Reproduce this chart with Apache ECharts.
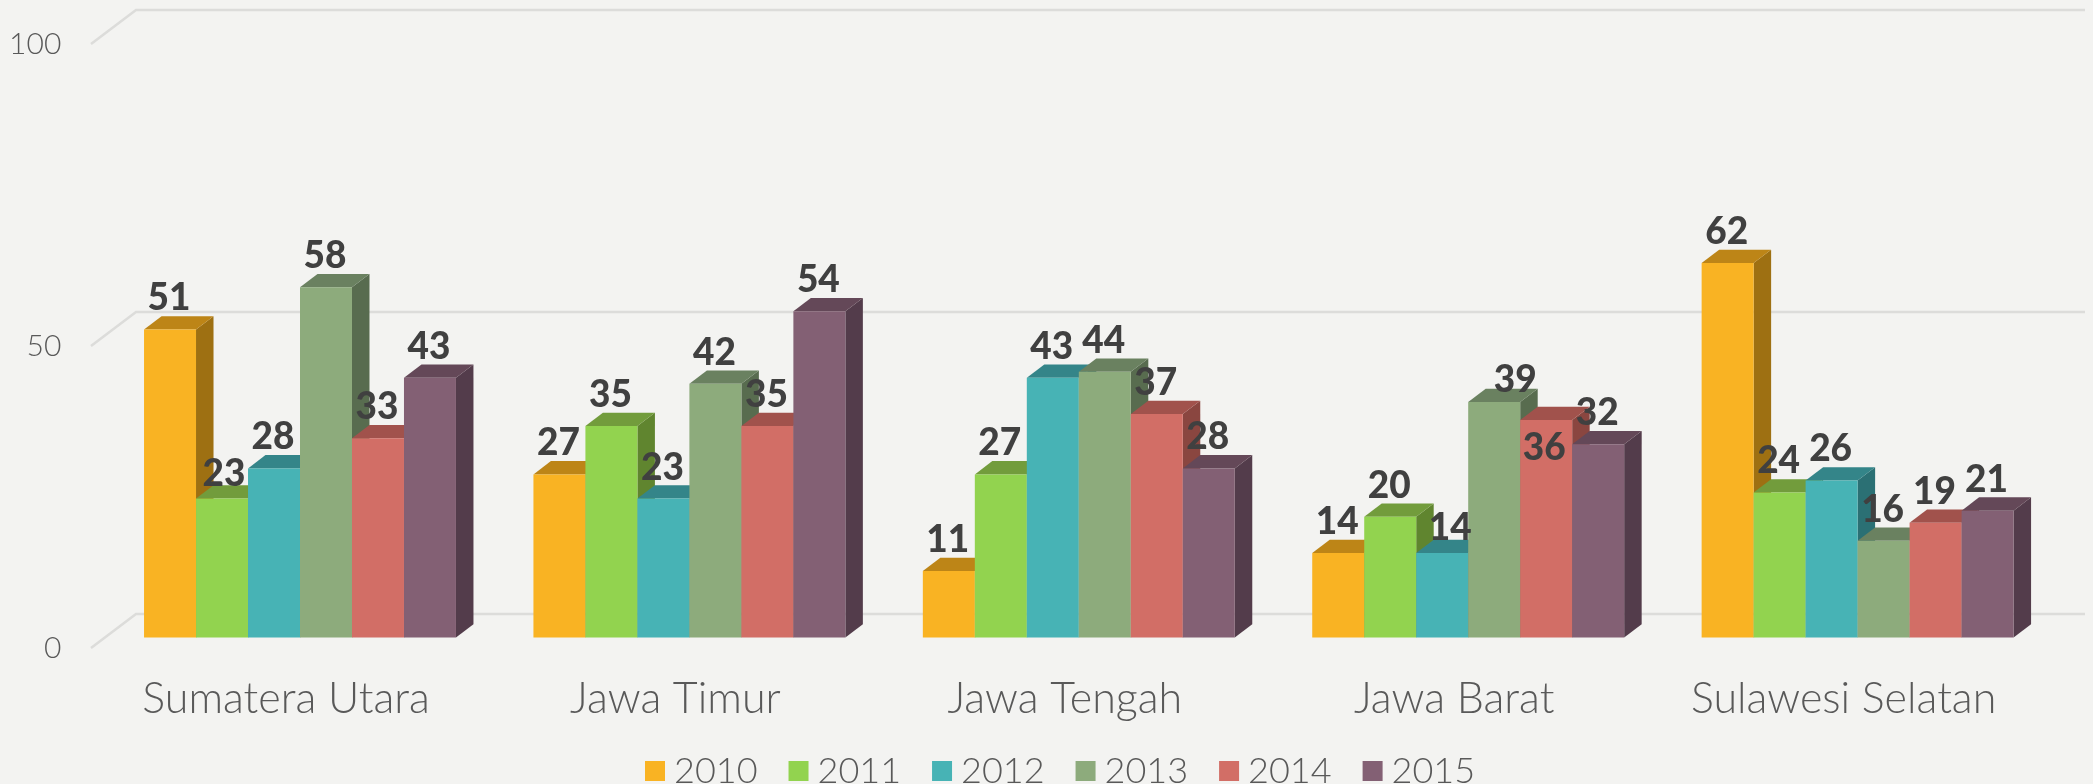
<!DOCTYPE html>
<html>
<head>
<meta charset="utf-8">
<title>Chart</title>
<style>
  html, body { margin: 0; height: 100%; background: #f3f3f1; }
  #chart { width: 2093px; height: 784px; }
</style>
<script src="https://cdn.jsdelivr.net/npm/echarts@6/dist/echarts.min.js"></script>
</head>
<body>
<div id="chart"></div>
<script>
const regions = ['Sumatera Utara', 'Jawa Timur', 'Jawa Tengah', 'Jawa Barat', 'Sulawesi Selatan']
const years = ['2010', '2011', '2012', '2013', '2014', '2015']
const values2010 = [51, 27, 11, 14, 62]
const values2011 = [23, 35, 27, 20, 24]
const values2012 = [28, 23, 43, 14, 26]
const values2013 = [58, 42, 44, 39, 16]
const values2014 = [33, 35, 37, 36, 19]
const values2015 = [43, 54, 28, 32, 21]
const yTicks = [0, 50, 100]

const yearValues = [values2010, values2011, values2012, values2013, values2014, values2015]

// front, top and side colour of each year's bars
const frontColors = ['#f9b323', '#92d34f', '#47b3b5', '#8dab7c', '#d26e66', '#836074']
const topColors = ['#bd8517', '#729c3c', '#348589', '#6a8160', '#a1524c', '#644858']
const sideColors = ['#9e7012', '#60852f', '#2b7074', '#586c4f', '#8a4640', '#533c4b']

const barDepthX = 17.5
const barDepthY = 13.3
const wallX = 45      // floor depth of the fake 3D box
const wallY = 34
const floorDrop = 10.5 // front edge of the floor sits below the bar base

// labels that were moved by hand in the original, "region-year": [dx, dy]
const labelNudges = {
  '0-1': [3, 6],
  '3-2': [9, 6],
  '3-3': [22, 9],
  '3-4': [-1, 59]
}

const chart = echarts.init(document.getElementById('chart'))

// back wall gridlines plus the slanted bit on the left
const renderGridLine = (params, api) => {
  const p = api.coord([0, api.value(0)])
  const box = params.coordSys
  const frontY = p[1] + floorDrop
  const backY = frontY - wallY
  return {
    type: 'polyline',
    z2: -1,
    shape: { points: [[91, frontY], [91 + wallX, backY], [box.x + box.width + 32.7, backY]] },
    style: { stroke: '#dcdcda', lineWidth: 2.5, fill: null }
  }
}

const makeBarRenderer = (yearIndex) => (params, api) => {
  const catIndex = api.value(0)
  const val = api.value(1)
  const top = api.coord([catIndex, val])
  const base = api.coord([catIndex, 0])
  const w = api.size([1, 0])[0] / 7.49
  const x = top[0] + (yearIndex - 3) * w
  const xr = x + w
  const dx = barDepthX
  const dy = barDepthY
  const nudge = labelNudges[catIndex + '-' + yearIndex] || [0, 0]

  return {
    type: 'group',
    children: [
      {
        type: 'polygon',
        z2: yearIndex * 3,
        shape: { points: [[xr, base[1]], [xr + dx, base[1] - dy], [xr + dx, top[1] - dy], [xr, top[1]]] },
        style: { fill: sideColors[yearIndex] }
      },
      {
        type: 'polygon',
        z2: yearIndex * 3 + 1,
        shape: { points: [[x, top[1]], [x + dx, top[1] - dy], [xr + dx, top[1] - dy], [xr, top[1]]] },
        style: { fill: topColors[yearIndex] }
      },
      {
        type: 'rect',
        z2: yearIndex * 3 + 2,
        shape: { x: x, y: top[1], width: w, height: base[1] - top[1] },
        style: { fill: frontColors[yearIndex] }
      },
      {
        type: 'text',
        z2: 100,
        style: {
          x: x + w / 2 - 1 + nudge[0],
          y: top[1] - 31 + nudge[1],
          text: String(val),
          fill: '#404040',
          font: '900 37px Lato',
          align: 'center',
          verticalAlign: 'middle'
        }
      }
    ]
  }
}

const option = {
  backgroundColor: '#f3f3f1',
  animation: false,
  legend: {
    data: years,
    left: 640,
    top: 748,
    icon: 'rect',
    itemWidth: 20,
    itemHeight: 20,
    itemGap: 31,
    selectedMode: false,
    textStyle: {
      color: '#595959',
      fontFamily: 'Lato',
      fontWeight: 300,
      fontSize: 36,
      padding: [0, 0, 0, 4]
    }
  },
  grid: { left: 105.3, top: 33.5, width: 1947, height: 604 },
  xAxis: {
    type: 'category',
    data: regions,
    axisLine: { show: false },
    axisTick: { show: false },
    axisLabel: {
      interval: 0,
      color: '#595959',
      fontFamily: 'Lato',
      fontWeight: 300,
      fontSize: 43,
      margin: 40,
      padding: [0, 28, 0, 0]
    }
  },
  yAxis: {
    type: 'value',
    min: 0,
    max: 100,
    interval: 50,
    splitLine: { show: false },
    axisLine: { show: false },
    axisTick: { show: false },
    axisLabel: {
      color: '#595959',
      fontFamily: 'Lato',
      fontWeight: 300,
      fontSize: 30,
      margin: 44,
      verticalAlign: 'top',
      lineHeight: 21
    }
  },
  series: [
    {
      type: 'custom',
      name: 'grid',
      silent: true,
      renderItem: renderGridLine,
      encode: { y: 0 },
      data: yTicks.map((t) => [t])
    },
    ...years.map((year, i) => ({
      type: 'custom',
      name: year,
      silent: true,
      itemStyle: { color: frontColors[i] },
      renderItem: makeBarRenderer(i),
      encode: { x: 0, y: 1 },
      data: yearValues[i].map((v, c) => [c, v])
    }))
  ]
}

chart.setOption(option)
</script>
</body>
</html>
